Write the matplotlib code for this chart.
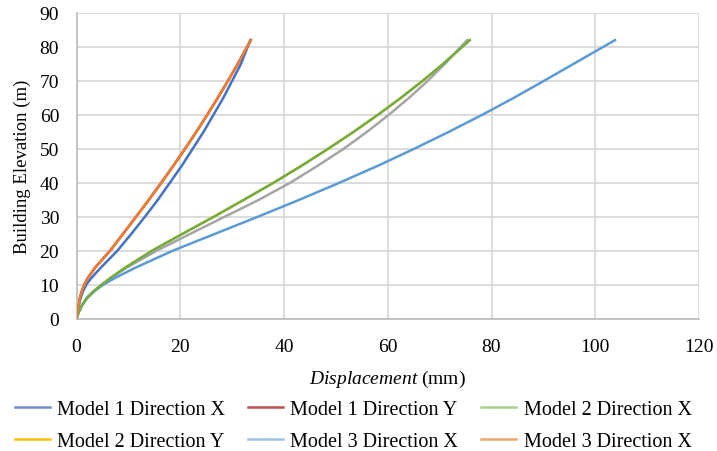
import matplotlib
matplotlib.use("Agg")
import matplotlib.pyplot as plt
from matplotlib.lines import Line2D
import numpy as np

plt.rcParams['font.family'] = ['Liberation Serif', 'DejaVu Serif']
plt.rcParams['mathtext.fontset'] = 'custom'
plt.rcParams['mathtext.it'] = 'Liberation Serif:italic'
plt.rcParams['mathtext.rm'] = 'Liberation Serif'

# Building elevation (m)
elevation = [0, 2, 4, 6, 8, 10, 12, 15, 20, 25, 30, 35, 40, 45, 50, 55, 60, 65, 70, 75, 82]

# Displacement (mm)
m1_x = [0, 0.2, 0.45, 0.8, 1.25, 1.9, 2.9, 4.7, 7.9, 10.6, 13.2, 15.7, 18.0, 20.3, 22.4, 24.5, 26.4, 28.3, 30.0, 31.7, 33.5]
m1_y = [0, 0.15, 0.38, 0.65, 1.0, 1.5, 2.2, 3.6, 6.5, 9.0, 11.5, 13.96, 16.35, 18.67, 20.92, 23.1, 25.2, 27.23, 29.19, 31.08, 33.6]
m2_x = [0, 0.45, 1.1, 2.0, 3.3, 4.9, 6.6, 9.4, 14.6, 20.5, 26.5, 32.3, 38.0, 43.38, 48.52, 53.43, 58.1, 62.53, 66.72, 70.67, 75.8]
m2_y = [0, 0.45, 1.1, 2.0, 3.3, 4.9, 6.6, 9.4, 14.6, 20.5, 26.5, 32.3, 38.0, 43.38, 48.52, 53.43, 58.1, 62.53, 66.72, 70.67, 75.8]
m3_x = [0, 0.45, 1.1, 2.0, 3.4, 5.2, 7.5, 11.4, 18.6, 26.8, 35.0, 43.0, 50.7, 58.1, 65.1, 71.8, 78.2, 84.3, 90.1, 95.8, 103.8]
m3_x2 = [0, 0.15, 0.38, 0.65, 1.0, 1.5, 2.2, 3.6, 6.5, 9.0, 11.5, 13.96, 16.35, 18.67, 20.92, 23.1, 25.2, 27.23, 29.19, 31.08, 33.6]
extra = [0, 0.45, 1.1, 2.0, 3.3, 4.9, 6.7, 9.7, 15.5, 22.0, 28.6, 35.2, 41.2, 46.5, 51.5, 56.0, 60.2, 64.1, 67.7, 71.0, 75.3]

labels = ["Model 1 Direction X", "Model 1 Direction Y", "Model 2 Direction X",
          "Model 2 Direction Y", "Model 3 Direction X", "Model 3 Direction X"]
line_colors = ["#4472C4", "#A5302F", "#70AD47", "#FFC000", "#5B9BD5", "#ED7D31"]
legend_colors = ["#6F8FCF", "#C0504D", "#A9D18E", "#FFC000", "#9DC3E6", "#F4A46B"]

fig = plt.figure(figsize=(7.17, 4.52), dpi=100)
ax = fig.add_axes([76.5/717, 1-319.5/452, (699-76.5)/717, (319.5-14)/452])

series = [m1_x, m1_y, m2_x, m2_y, m3_x, m3_x2]
zorders = [4, 2, 4, 2, 3.5, 5]
for s, c, z in zip(series, line_colors, zorders):
    ax.plot(s, elevation, color=c, lw=1.8, zorder=z)
ax.plot(extra, elevation, color="#A5A5A5", lw=1.8, zorder=3, label='_nolegend_')

ax.set_xlim(0, 120)
ax.set_ylim(0, 90)
ax.set_xticks(np.arange(0, 121, 20))
ax.set_yticks(np.arange(0, 91, 10))
ax.grid(True, color="#D9D9D9", lw=1.3, zorder=0)
ax.set_axisbelow(True)
for sp in ['top', 'right']:
    ax.spines[sp].set_visible(False)
for sp in ['left', 'bottom']:
    ax.spines[sp].set_color("#BFBFBF")
    ax.spines[sp].set_linewidth(1.3)
ax.tick_params(length=0, labelsize=14, pad=12.5, colors='black')
ax.tick_params(axis='x', pad=14)

ax.set_xlabel(r'$\mathit{Displacement}$ (mm)', fontsize=14, labelpad=9)
ax.set_ylabel('Building Elevation (m)', fontsize=13.5, labelpad=6)

order = [0, 3, 1, 4, 2, 5]
handles = [Line2D([], [], color=legend_colors[i], lw=1.8) for i in order]
fig.legend(handles, [labels[i] for i in order], loc='upper left',
           bbox_to_anchor=(0.0098, 0.13), ncol=3, frameon=False, fontsize=14.5,
           handlelength=1.74, handletextpad=0.35, columnspacing=1.15,
           labelspacing=0.6, borderaxespad=0)

fig.savefig("out.png", dpi=100)
